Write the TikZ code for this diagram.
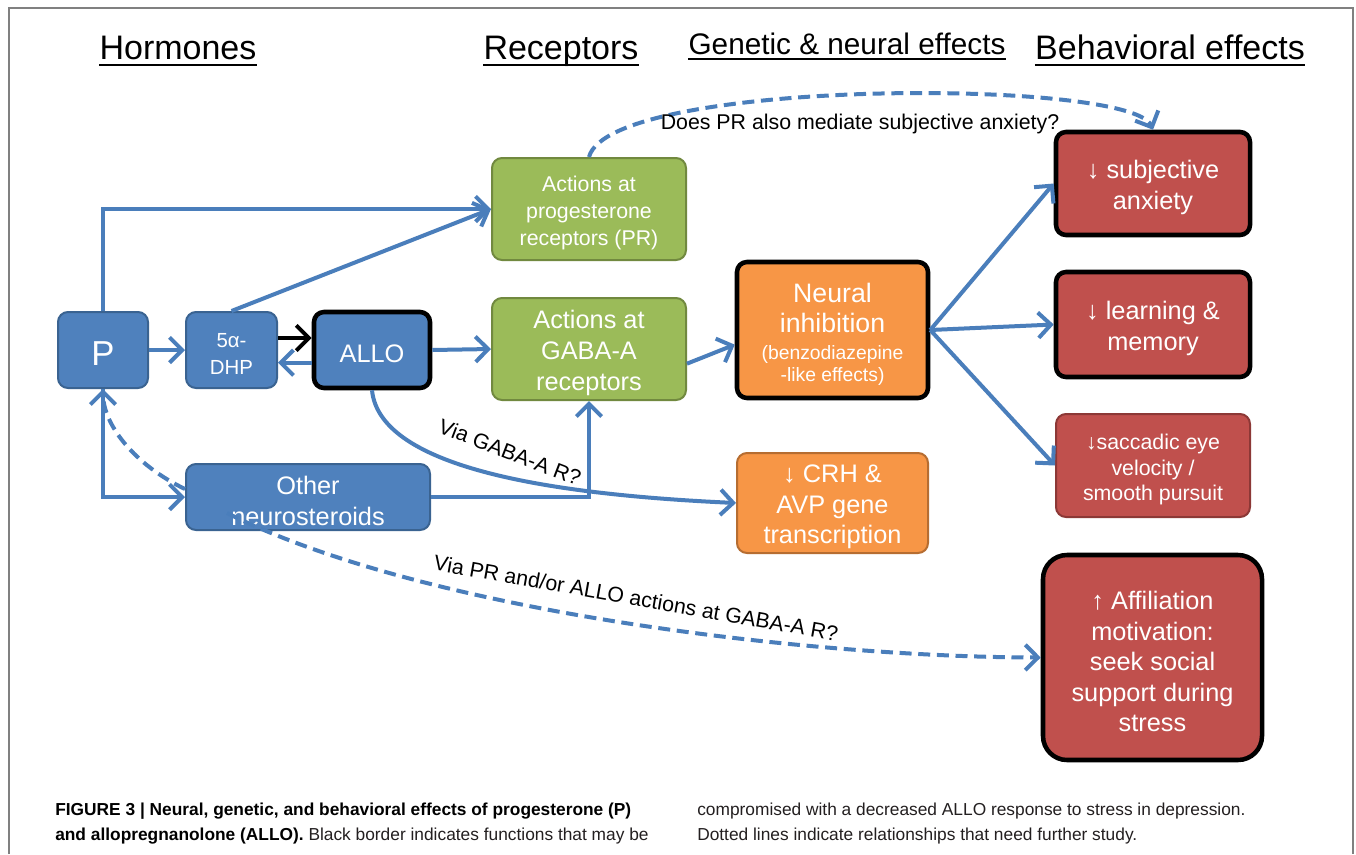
\documentclass[tikz,border=0pt]{standalone}
\usepackage{fontspec}
\setmainfont{Liberation Sans}
\usetikzlibrary{arrows.meta,calc}
\definecolor{cblue}{HTML}{4F81BD}
\definecolor{cbluedk}{HTML}{3A6391}
\definecolor{cgreen}{HTML}{9BBB59}
\definecolor{cgreendk}{HTML}{71893F}
\definecolor{corange}{HTML}{F79646}
\definecolor{corangedk}{HTML}{B66D31}
\definecolor{cred}{HTML}{C0504D}
\definecolor{creddk}{HTML}{8C3836}
\definecolor{cline}{HTML}{4A7EBB}
\definecolor{ccap}{HTML}{231F20}
\newcommand\fs[2]{\fontsize{#1}{#2}\selectfont}
% name, x1, y1, x2, y2, box style, font, text
\newcommand\mkbox[8]{%
  \node[#6,minimum width={(#4-#2)*0.75pt},minimum height={(#5-#3)*0.75pt}] (#1) at ({(#2+#4)/2},{(#3+#5)/2}) {};
  \node[boxtext, font=#7] (#1t) at ([yshift=-3pt]#1.center) {#8};}
\begin{document}
\begin{tikzpicture}[x=0.75pt,y=-0.75pt,
 base/.style={rounded corners=7.5pt, line width=1.5pt, inner sep=0pt},
 boxtext/.style={inner sep=0pt, align=center, text=white},
 bluebox/.style={base, fill=cblue, draw=cbluedk},
 greenbox/.style={base, fill=cgreen, draw=cgreendk},
 orangebox/.style={base, fill=corange, draw=corangedk},
 redbox/.style={base, fill=cred, draw=creddk},
 blk/.style={draw=black, line width=3.4pt},
 conn/.style={draw=cline, line width=3pt, -{Straight Barb[length=9.5pt,width=19pt]}},
 dconn/.style={conn, dash pattern=on 9pt off 5pt},
 lbl/.style={font=\fs{16}{19}, inner sep=0pt},
 hdr/.style={font=\fs{25.5}{30}, inner sep=0pt, anchor=base},
 uline/.style={line width=1.6pt},
 captxt/.style={font=\fs{13}{16}, inner sep=0pt, anchor=base west, text=ccap}
]
\useasboundingbox (0,0) rectangle (1356,854);
\fill[white] (0,0) rectangle (1356,854);
\draw[gray, line width=1pt] (9,854) -- (9,8) -- (1353,8) -- (1353,854);

% headers
\node[hdr] (h1) at (178,59) {Hormones};
\node[hdr] (h2) at (561,59) {Receptors};
\node[hdr, font=\fs{22.3}{26}] (h3) at (847,54) {Genetic \& neural effects};
\node[hdr] (h4) at (1170,59) {Behavioral effects};
\foreach \h in {h1,h2,h4}{\draw[uline] ([yshift=-4.5pt]\h.base west) -- ([yshift=-4.5pt]\h.base east);}
\draw[uline] ([yshift=-3.5pt]h3.base west) -- ([yshift=-3.5pt]h3.base east);

% boxes
\mkbox{P}{58}{312}{148}{388}{bluebox}{\fs{26}{30}}{P}
\mkbox{dhp}{186}{312}{277}{388}{bluebox}{\fs{15.3}{20}}{5α-\\DHP}
\mkbox{allo}{314}{312}{430}{388}{bluebox, blk}{\fs{19}{22}}{ALLO}
\mkbox{other}{186}{464}{430}{530}{bluebox}{\fs{19}{23}}{Other\\neurosteroids}
\mkbox{pr}{492}{158}{686}{260}{greenbox}{\fs{16}{20}}{Actions at\\progesterone\\receptors (PR)}
\mkbox{gaba}{492}{298}{686}{400}{greenbox}{\fs{19}{23.2}}{Actions at\\GABA-A\\receptors}
\mkbox{neural}{737}{262}{928}{398}{orangebox, blk}{\fs{20}{22.5}}{Neural\\inhibition\\[-2pt]\fs{14.5}{16.5}(benzodiazepine\\[-6pt]\fs{14.5}{16.5}-like effects)}
\mkbox{crh}{737}{453}{928}{553}{orangebox}{\fs{19}{22.8}}{↓ CRH \&\\AVP gene\\transcription}
\mkbox{subj}{1056}{132}{1250}{235}{redbox, blk}{\fs{19}{23.2}}{↓ subjective\\anxiety}
\mkbox{learn}{1056}{272}{1250}{377}{redbox, blk}{\fs{19}{23.2}}{↓ learning \&\\memory}
\mkbox{sacc}{1056}{414}{1250}{517}{redbox}{\fs{16}{19.2}}{↓saccadic eye\\velocity /\\smooth pursuit}
\mkbox{affil}{1043}{555}{1262}{760}{redbox, blk, rounded corners=18pt}{\fs{19}{22.9}}{↑ Affiliation\\motivation:\\seek social\\support during\\stress}

% solid connectors
\draw[conn] (P.north) |- (pr.west);
\draw[conn] (dhp.north) -- (pr.west);
\draw[conn] (P.east) -- (dhp.west);
\draw[conn, draw=black] ([yshift=9pt]dhp.east) -- ([yshift=9pt]allo.west);
\draw[conn] ([yshift=-9.5pt]allo.west) -- ([yshift=-9.5pt]dhp.east);
\draw[conn] (allo.east) -- (gaba.west);
\draw[conn] ([yshift=-11pt]gaba.east) -- ([yshift=-11pt]neural.west);
\draw[conn] (neural.east) -- (subj.west);
\draw[conn] (neural.east) -- (learn.west);
\draw[conn] (neural.east) -- (sacc.west);
\draw[conn] (P.south) |- (other.west);
\draw[conn] (other.east) -| (gaba.south);
\draw[conn] (allo.south) .. controls (380,470) and (560,495) .. (crh.west);

% dashed connectors
\coordinate (ostart) at ($(other.south west)+(42,-18)$);
\draw[dconn] ([yshift=6pt]other.west) .. controls (135,465) and (103,425) .. (P.south);
\draw[dconn] (ostart) .. controls (420,610) and (800,657) .. (affil.west);
\draw[dconn] (pr.north) .. controls (610,78) and (1130,78) .. (subj.north);

% labels
\node[lbl] (l1) at (860,124) {Does PR also mediate subjective anxiety?};
\node[lbl, rotate=-21] (l2) at (510,452) {Via GABA-A R?};
\node[lbl, rotate=-10] (l3) at (636,598) {Via PR and/or ALLO actions at GABA-A R?};

% caption
\node[captxt, text=black] (c1) at (55,815) {\bfseries FIGURE 3 | Neural, genetic, and behavioral effects of progesterone (P)};
\node[captxt] (c2) at (55,840) {\textbf{\color{black}and allopregnanolone (ALLO).} Black border indicates functions that may be};
\node[captxt] (c3) at (697,815) {compromised with a decreased ALLO response to stress in depression.};
\node[captxt] (c4) at (697,840) {Dotted lines indicate relationships that need further study.};
\end{tikzpicture}
\end{document}
